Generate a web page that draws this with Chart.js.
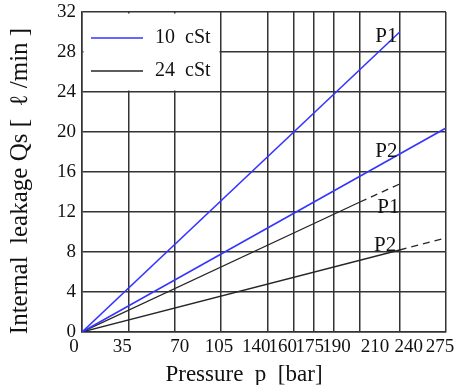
<!DOCTYPE html>
<html><head><meta charset="utf-8">
<script src="https://cdn.jsdelivr.net/npm/chart.js@4/dist/chart.umd.min.js"></script>
<style>html,body{margin:0;padding:0;background:#fff;overflow:hidden}#wrap{width:456px;height:385px}</style>
</head><body><div id="wrap"><canvas id="c" width="456" height="385"></canvas></div>
<script>
// ---- data ----
const xTickValues = [0, 35, 70, 105, 140, 160, 175, 190, 210, 240, 275];
const yTickValues = [0, 4, 8, 12, 16, 20, 24, 28, 32];
const cSt10_P1 = [[0, 0], [240, 30]];
const cSt10_P2 = [[0, 0], [275, 20.4]];
const cSt24_P1 = [[0, 0], [210, 13.0], [240, 14.8]];   // last segment dashed
const cSt24_P2 = [[0, 0], [240, 8.2], [275, 9.4]];     // last segment dashed
const seriesNames = ['10  cSt', '24  cSt'];
const curveTags = ['P1', 'P2', 'P1', 'P2'];
const curveTagAt = [[230, 29.6], [230, 18.1], [231.5, 12.5], [229, 8.7]];
const xTitle = 'Pressure  p  [bar]';
const yTitle = 'Internal  leakage Qs [  \u2113 /min ]';

// ---- styles ----
const BLUE = '#3535ff', BLACK = '#262626', GRID = '#333333', TXT = '#111111';
const SERIF = '"Liberation Serif", "Times New Roman", serif';
const xLabelShift = [-8, -6, 5, -2, -11, -11, -4, 3, 15, 9, -6];

const toXY = a => a.map(([x, y]) => ({x, y}));
const dashLast = n => ({borderDash: c => (c.p0DataIndex >= n ? [7, 5] : undefined)});

const decor = {
  id: 'decor',
  beforeDatasetsDraw(chart) {
    const {ctx, chartArea: a, scales: {x, y}} = chart;
    ctx.save();
    ctx.fillStyle = '#fff';
    const bx = a.left + 1.5, by = a.top + 1.5;
    ctx.fillRect(bx, by, x.getPixelForValue(105) - 1.5 - bx, y.getPixelForValue(24) - 1.5 - by);
    const cols = [BLUE, BLACK], widths = [1.5, 1.3];
    [26, 59].forEach((dy, i) => {
      ctx.strokeStyle = cols[i]; ctx.lineWidth = widths[i];
      ctx.beginPath(); ctx.moveTo(a.left + 9, a.top + dy); ctx.lineTo(a.left + 61, a.top + dy); ctx.stroke();
      ctx.fillStyle = TXT; ctx.font = '20px ' + SERIF; ctx.textAlign = 'left'; ctx.textBaseline = 'middle';
      ctx.fillText(seriesNames[i], a.left + 73, a.top + dy);
    });
    ctx.restore();
  },
  afterDraw(chart) {
    const {ctx, chartArea: a, scales: {x, y}} = chart;
    ctx.save();
    ctx.fillStyle = TXT;
    ctx.font = '19px ' + SERIF; ctx.textAlign = 'center'; ctx.textBaseline = 'middle';
    xTickValues.forEach((v, i) => ctx.fillText(String(v), x.getPixelForValue(v) + xLabelShift[i], a.bottom + 15));
    ctx.font = '21px ' + SERIF;
    curveTags.forEach((t, i) => ctx.fillText(t, x.getPixelForValue(curveTagAt[i][0]), y.getPixelForValue(curveTagAt[i][1])));
    ctx.font = '23px ' + SERIF; ctx.textBaseline = 'alphabetic';
    ctx.fillText(xTitle, a.left + 162, a.bottom + 49);
    ctx.translate(20, (a.top + a.bottom) / 2 + 9);
    ctx.rotate(-Math.PI / 2);
    ctx.font = '25px ' + SERIF; ctx.textBaseline = 'middle';
    ctx.fillText(yTitle, 0, 0);
    ctx.restore();
  }
};

const gridOpts = {color: GRID, lineWidth: 1.5, drawTicks: false};
new Chart(document.getElementById('c'), {
  type: 'line',
  data: {
    datasets: [
      {data: toXY(cSt10_P1), borderColor: BLUE, borderWidth: 1.6},
      {data: toXY(cSt10_P2), borderColor: BLUE, borderWidth: 1.6},
      {data: toXY(cSt24_P1), borderColor: BLACK, borderWidth: 1.3, segment: dashLast(1)},
      {data: toXY(cSt24_P2), borderColor: BLACK, borderWidth: 1.3, segment: dashLast(1)}
    ].map(d => Object.assign({pointRadius: 0, fill: false, tension: 0}, d))
  },
  options: {
    responsive: false, animation: false, devicePixelRatio: 1,
    layout: {padding: {left: 0, right: 10, top: 12, bottom: 0}},
    plugins: {legend: {display: false}, tooltip: {enabled: false}},
    scales: {
      x: {
        type: 'linear', min: 0, max: 275,
        afterBuildTicks: s => { s.ticks = xTickValues.map(v => ({value: v})); },
        ticks: {display: false, autoSkip: false},
        grid: gridOpts, border: {color: GRID, width: 1.5},
        afterFit: s => { s.height = 53; s.paddingLeft = 0; s.paddingRight = 0; }
      },
      y: {
        type: 'linear', min: 0, max: 32,
        afterBuildTicks: s => { s.ticks = yTickValues.map(v => ({value: v})); },
        ticks: {autoSkip: false, padding: 6, color: TXT, font: {family: SERIF, size: 19}},
        grid: gridOpts, border: {color: GRID, width: 1.5},
        afterFit: s => { s.width = 82; s.paddingTop = 0; s.paddingBottom = 0; }
      }
    }
  },
  plugins: [decor]
});
</script>
</body></html>
